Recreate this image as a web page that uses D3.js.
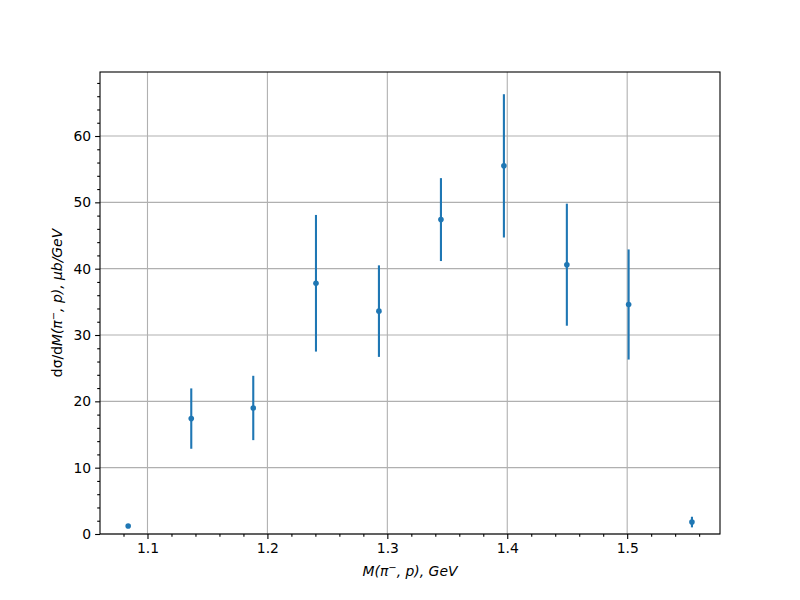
<!DOCTYPE html>
<html><head><meta charset="utf-8">
<script src="https://cdn.jsdelivr.net/npm/d3@7"></script>
<style>body{margin:0;background:#fff}svg{display:block;font-family:"DejaVu Sans",sans-serif}</style>
</head><body>
<svg id="c" width="800" height="600"></svg>
<script>
const massValues = [1.0839, 1.1365, 1.1882, 1.2405, 1.2930, 1.3447, 1.3972, 1.4497, 1.5012, 1.5540];
const crossSection = [1.2, 17.4, 19.0, 37.8, 33.6, 47.4, 55.5, 40.6, 34.6, 1.8];
const crossSectionErr = [0.0, 4.55, 4.85, 10.3, 6.9, 6.25, 10.8, 9.2, 8.3, 0.8];
const xTicks = [1.1, 1.2, 1.3, 1.4, 1.5];
const yTicks = [0, 10, 20, 30, 40, 50, 60];

const svg = d3.select("#c");
const L = 100, R = 720, T = 72, B = 534;
const x = d3.scaleLinear().domain([1.0604, 1.5774]).range([L, R]);
const y = d3.scaleLinear().domain([0, 69.65]).range([B, T]);
const blue = "#1f77b4";

// grid
const g = svg.append("g");
g.selectAll(".gx").data(xTicks).join("line")
  .attr("x1", d => x(d)).attr("x2", d => x(d)).attr("y1", T).attr("y2", B)
  .attr("stroke", "#b0b0b0").attr("stroke-width", 1.1);
g.selectAll(".gy").data(yTicks).join("line")
  .attr("y1", d => y(d)).attr("y2", d => y(d)).attr("x1", L).attr("x2", R)
  .attr("stroke", "#b0b0b0").attr("stroke-width", 1.1);

// axes
const xMinor = d3.range(1.08, 1.575, 0.02).filter(v => !xTicks.some(t => Math.abs(t - v) < 1e-6));
const yMinor = d3.range(2, 69.6, 2).filter(v => v % 10 !== 0);

const xAxis = svg.append("g").attr("transform", `translate(0,${B})`)
  .call(d3.axisBottom(x).tickValues(xTicks).tickFormat(d3.format(".1f")).tickSize(4.9).tickPadding(4));
const xAxisMinor = svg.append("g").attr("transform", `translate(0,${B})`)
  .call(d3.axisBottom(x).tickValues(xMinor).tickFormat("").tickSize(2.8));
const yAxis = svg.append("g").attr("transform", `translate(${L},0)`)
  .call(d3.axisLeft(y).tickValues(yTicks).tickFormat(d3.format("d")).tickSize(4.9).tickPadding(4));
const yAxisMinor = svg.append("g").attr("transform", `translate(${L},0)`)
  .call(d3.axisLeft(y).tickValues(yMinor).tickFormat("").tickSize(2.8));
[xAxis, xAxisMinor, yAxis, yAxisMinor].forEach(a => {
  a.select(".domain").remove();
  a.selectAll("line").attr("stroke", "#000").attr("stroke-width", 1.1);
  a.selectAll("text").attr("font-size", 13.9).attr("fill", "#000").attr("font-family", "DejaVu Sans");
});

// error bars
const data = massValues.map((m, i) => ({m, v: crossSection[i], e: crossSectionErr[i]}));
svg.append("g").selectAll("line").data(data.filter(d => d.e > 0)).join("line")
  .attr("x1", d => x(d.m)).attr("x2", d => x(d.m))
  .attr("y1", d => y(d.v - d.e)).attr("y2", d => y(d.v + d.e))
  .attr("stroke", blue).attr("stroke-width", 2.1);
svg.append("g").selectAll("circle").data(data).join("circle")
  .attr("cx", d => x(d.m)).attr("cy", d => y(d.v)).attr("r", 2.8).attr("fill", blue);

// frame
svg.append("rect").attr("x", L).attr("y", T).attr("width", R - L).attr("height", B - T)
  .attr("fill", "none").attr("stroke", "#000").attr("stroke-width", 1.1);

// labels
const xl = svg.append("text").attr("x", (L + R) / 2).attr("y", 576).attr("text-anchor", "middle")
  .attr("font-size", 13.9).attr("font-style", "italic");
xl.append("tspan").text("M(π");
xl.append("tspan").attr("dy", -5).attr("font-size", 10).text("−");
xl.append("tspan").attr("dy", 5).text(", p), GeV");

const yl = svg.append("text").attr("transform", `translate(62,${(T + B) / 2}) rotate(-90)`)
  .attr("text-anchor", "middle").attr("font-size", 13.9);
yl.append("tspan").text("dσ/d");
yl.append("tspan").attr("font-style", "italic").text("M(π");
yl.append("tspan").attr("font-style", "italic").attr("dy", -5).attr("font-size", 10).text("−");
yl.append("tspan").attr("font-style", "italic").attr("dy", 5).text(", p), μb/GeV");
</script>
</body></html>
